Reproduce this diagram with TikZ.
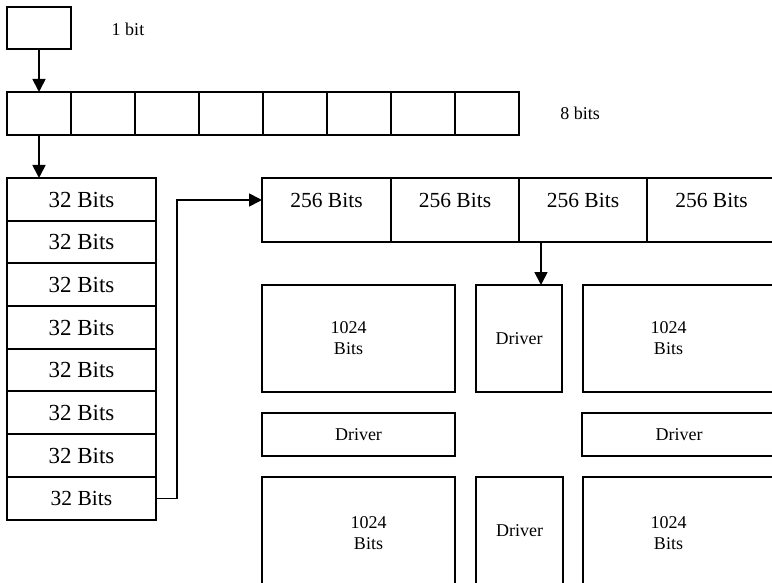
\documentclass[tikz,border=0pt]{standalone}
\usepackage{fontspec}
\setmainfont{Liberation Serif}
\usetikzlibrary{arrows.meta,calc}
\begin{document}
\begin{tikzpicture}[x=1pt,y=-1pt,
  box/.style={draw, line width=1.8pt, inner sep=0pt, outer sep=0pt, anchor=north west, align=center},
  txt/.style={inner sep=0pt, font=\fontsize{18}{21}\selectfont, align=center},
  conn/.style={line width=1.8pt, -{Triangle[width=13pt,length=13pt]}},
  small/.style={font=\fontsize{18}{21}\selectfont},
  mid/.style={font=\fontsize{21.5}{24}\selectfont},
  big/.style={font=\fontsize{23}{26}\selectfont}]
\useasboundingbox (0,0) rectangle (772,583);
\clip (0,0) rectangle (772,583);
% 1 bit
\node[box, minimum width=64pt, minimum height=42pt] (b1) at (7,7) {};
\node[txt] (t1) at (128,29) {1 bit};
% 8 bits
\foreach \i in {1,...,8}{
  \node[box, minimum width=64pt, minimum height=43pt] (e\i) at ({7+64*(\i-1)},92) {};
}
\node[txt] (t8) at (580,113) {8 bits};
% 32 bits column
\foreach \i/\y/\h in {1/178/43,2/221/42,3/263/43,4/306/43,5/349/42,6/391/43,7/434/43}{
  \node[box, big, minimum width=149pt, minimum height=\h pt] (r\i) at (7,\y) {32 Bits};
}
\node[box, mid, minimum width=149pt, minimum height=43pt] (r8) at (7,477) {32 Bits};
% 256 bits row
\foreach \i/\x/\w in {1/262/129,2/391/128,3/519/128,4/647/129}{
  \node[box, mid, minimum width=\w pt, minimum height=64pt, text height=30pt, text depth=34pt] (c\i) at (\x,178) {256 Bits};
}
% lower grid
\node[box, minimum width=193pt, minimum height=107pt,
  label={[txt, xshift=-10pt]center:1024\\Bits}] (m1) at (262,285) {};
\node[box, small, minimum width=86pt, minimum height=107pt] (d1) at (476,285) {Driver};
\node[box, minimum width=193pt, minimum height=107pt,
  label={[txt, xshift=-11pt]center:1024\\Bits}] (m2) at (583,285) {};
\node[box, small, minimum width=193pt, minimum height=43pt] (d2) at (262,413) {Driver};
\node[box, small, minimum width=194pt, minimum height=43pt] (d3) at (582,413) {Driver};
\node[box, minimum width=193pt, minimum height=107pt,
  label={[txt, xshift=10pt, yshift=-3pt]center:1024\\Bits}] (m3) at (262,477) {};
\node[box, small, minimum width=87pt, minimum height=107pt] (d4) at (476,477) {Driver};
\node[box, minimum width=193pt, minimum height=107pt,
  label={[txt, xshift=-11pt, yshift=-3pt]center:1024\\Bits}] (m4) at (583,477) {};
% connectors
\draw[conn] (b1.south) -- (e1.north);
\draw[conn] (e1.south) -- (e1.south |- r1.north);
\coordinate (c1in) at ($(c1.north west)+(0,22)$);
\draw[conn] (r8.east) -- ++(21,0) |- (c1in);
\coordinate (c3out) at ($(c3.south west)+(22,0)$);
\draw[conn] (c3out) -- (c3out |- d1.north);
\end{tikzpicture}
\end{document}
